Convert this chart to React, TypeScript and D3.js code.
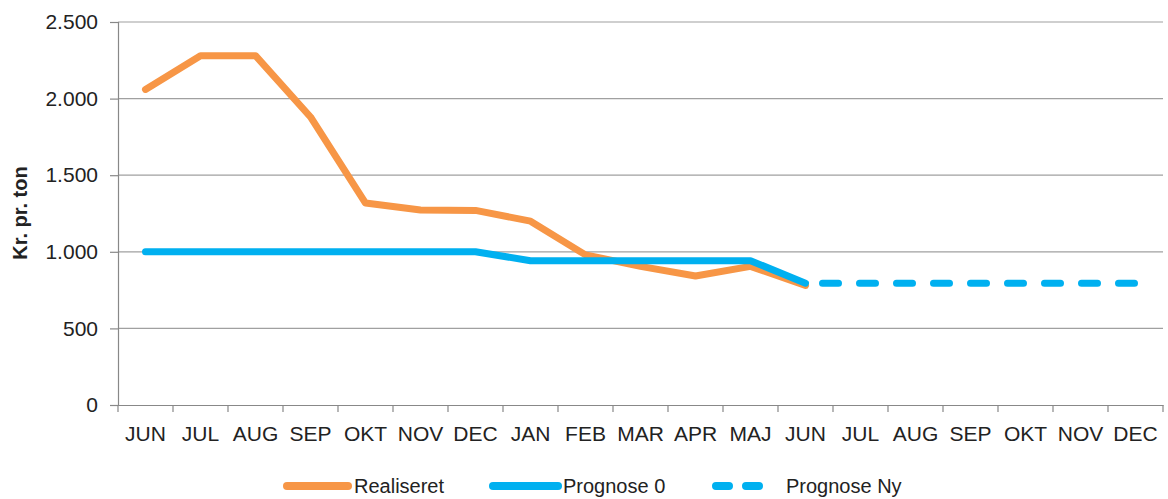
import { useEffect, useRef } from "react";
import * as d3 from "d3";

const months = ["JUN", "JUL", "AUG", "SEP", "OKT", "NOV", "DEC", "JAN", "FEB", "MAR", "APR", "MAJ", "JUN", "JUL", "AUG", "SEP", "OKT", "NOV", "DEC"];
const realiseret = [2060, 2280, 2280, 1880, 1318, 1273, 1270, 1200, 980, 905, 842, 905, 780];
const prognose0 = [1000, 1000, 1000, 1000, 1000, 1000, 1000, 942, 942, 942, 942, 942, 795];
const prognoseNy = [795, 795, 795, 795, 795, 795, 795];
const nyStart = 12;
const yTicks = [0, 500, 1000, 1500, 2000, 2500];

const W = 1168;
const H = 499;
const m = { left: 118, right: 1163, top: 22, bottom: 405 };
const font = "'Liberation Sans', Arial, sans-serif";
const fs = 21;

export default function App() {
  const ref = useRef<SVGSVGElement | null>(null);

  useEffect(() => {
    if (!ref.current) return;
    const svg = d3.select(ref.current);
    svg.selectAll("*").remove();

    const x = d3
      .scaleBand<number>()
      .domain(months.map((_, i) => i))
      .range([m.left, m.right]);
    const y = d3.scaleLinear().domain([0, 2500]).range([m.bottom, m.top]);
    const cx = (i: number) => (x(i) as number) + x.bandwidth() / 2;

    // gridlines
    svg
      .append("g")
      .selectAll("line")
      .data(yTicks.filter((t) => t > 0))
      .enter()
      .append("line")
      .attr("x1", m.left)
      .attr("x2", m.right)
      .attr("y1", (d) => y(d))
      .attr("y2", (d) => y(d))
      .attr("stroke", "#a0a0a0")
      .attr("stroke-width", 1.2);

    // y axis
    const yAxis = svg
      .append("g")
      .attr("transform", `translate(${m.left},0)`)
      .call(
        d3
          .axisLeft(y)
          .tickValues(yTicks)
          .tickSize(8)
          .tickPadding(12)
          .tickFormat((d) => d3.format(",")(d as number).replace(/,/g, "."))
      );
    yAxis.select(".domain").attr("stroke", "#888").attr("stroke-width", 1.2);
    yAxis.selectAll(".tick line").attr("stroke", "#888").attr("stroke-width", 1.2);
    yAxis
      .selectAll("text")
      .attr("font-family", font)
      .attr("font-size", fs)
      .attr("fill", "#222");

    // x axis
    const xAxis = svg
      .append("g")
      .attr("transform", `translate(0,${m.bottom})`)
      .call(
        d3
          .axisBottom(x)
          .tickSize(0)
          .tickPadding(21)
          .tickFormat((i) => months[i as number])
      );
    xAxis.select(".domain").attr("stroke", "#888").attr("stroke-width", 1.2);
    xAxis
      .selectAll("text")
      .attr("font-family", font)
      .attr("font-size", fs)
      .attr("fill", "#222");
    // ticks between categories
    xAxis
      .selectAll("line.sep")
      .data(d3.range(months.length + 1))
      .enter()
      .append("line")
      .attr("class", "sep")
      .attr("x1", (i) => m.left + i * x.bandwidth())
      .attr("x2", (i) => m.left + i * x.bandwidth())
      .attr("y1", 0)
      .attr("y2", 7)
      .attr("stroke", "#888")
      .attr("stroke-width", 1.2);

    // y label
    svg
      .append("text")
      .attr("transform", `translate(27,213) rotate(-90)`)
      .attr("text-anchor", "middle")
      .attr("font-family", font)
      .attr("font-size", 20)
      .attr("font-weight", "bold")
      .attr("fill", "#222")
      .text("Kr. pr. ton");

    const line = d3
      .line<number>()
      .x((_, i) => cx(i))
      .y((d) => y(d));

    svg
      .append("path")
      .datum(realiseret)
      .attr("d", line)
      .attr("fill", "none")
      .attr("stroke", "#F79646")
      .attr("stroke-width", 7)
      .attr("stroke-linecap", "round")
      .attr("stroke-linejoin", "round");

    svg
      .append("path")
      .datum(prognose0)
      .attr("d", line)
      .attr("fill", "none")
      .attr("stroke", "#00B0F0")
      .attr("stroke-width", 7)
      .attr("stroke-linecap", "round")
      .attr("stroke-linejoin", "round");

    const lineNy = d3
      .line<number>()
      .x((_, i) => cx(i + nyStart))
      .y((d) => y(d));

    svg
      .append("path")
      .datum(prognoseNy)
      .attr("d", lineNy)
      .attr("fill", "none")
      .attr("stroke", "#00B0F0")
      .attr("stroke-width", 7)
      .attr("stroke-linecap", "round")
      .attr("stroke-dasharray", "16 21")
      .attr("stroke-dashoffset", -17);

    // legend
    const legend = [
      { name: "Realiseret", color: "#F79646", dash: null, x1: 287, x2: 348, tx: 354 },
      { name: "Prognose 0", color: "#00B0F0", dash: null, x1: 493, x2: 558, tx: 563 },
      { name: "Prognose Ny", color: "#00B0F0", dash: "13 17", x1: 716, x2: 759, tx: 786 },
    ];
    const lg = svg.append("g").attr("transform", "translate(0,486)");
    legend.forEach((l) => {
      const p = lg
        .append("line")
        .attr("x1", l.x1)
        .attr("x2", l.x2)
        .attr("y1", 0)
        .attr("y2", 0)
        .attr("stroke", l.color)
        .attr("stroke-width", 8)
        .attr("stroke-linecap", "round");
      if (l.dash) p.attr("stroke-dasharray", l.dash);
      lg.append("text")
        .attr("x", l.tx)
        .attr("y", 7)
        .attr("font-family", font)
        .attr("font-size", 20)
        .attr("fill", "#222")
        .text(l.name);
    });
  }, []);

  return (
    <svg
      ref={ref}
      width={W}
      height={H}
      style={{ position: "absolute", left: 0, top: 0, background: "#fff" }}
    />
  );
}
